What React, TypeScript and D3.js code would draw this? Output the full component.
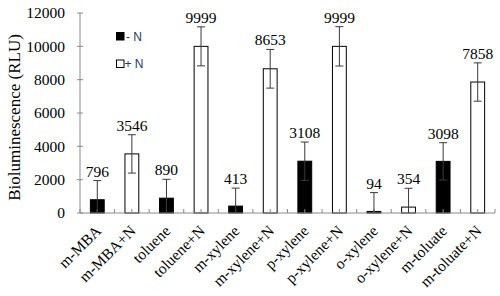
import React from "react";
import * as d3 from "d3";

const categories = [
  "m-MBA", "m-MBA+N", "toluene", "toluene+N", "m-xylene", "m-xylene+N",
  "p-xylene", "p-xylene+N", "o-xylene", "o-xylene+N", "m-toluate", "m-toluate+N",
];
const values = [796, 3546, 890, 9999, 413, 8653, 3108, 9999, 94, 354, 3098, 7858];
const errors = [1150, 1150, 1130, 1170, 1080, 1160, 1150, 1180, 1130, 1130, 1120, 1150];
// true = "+ N" series (open bar), false = "- N" series (filled bar)
const withN = [false, true, false, true, false, true, false, true, false, true, false, true];
const yTicks = [0, 2000, 4000, 6000, 8000, 10000, 12000];
const legendLabels = ["- N", "+ N"];

const W = 500;
const H = 296;
const left = 80;
const right = 495;
const top = 13;
const bottom = 213;

const serif = "Liberation Serif, Times New Roman, serif";
const sans = "Liberation Sans, Arial, sans-serif";

export default function App() {
  const x = d3.scaleBand<string>().domain(categories).range([left, right]).padding(0);
  const y = d3.scaleLinear().domain([0, 12000]).range([bottom, top]);
  const bw = x.bandwidth();
  const barW = bw * 0.4;
  const axisColor = "#8a8a8a";
  const errColor = "#3a3a3a";

  const halfTicks: number[] = [];
  for (let i = 0; i <= categories.length * 2; i++) halfTicks.push(left + (i * bw) / 2);

  const serifStyle = { fontFamily: serif };

  return (
    <svg width={W} height={H} style={{ position: "absolute", left: 0, top: 0, background: "#fff" }}>
      {/* y axis */}
      <line x1={left} x2={left} y1={top} y2={bottom} stroke={axisColor} strokeWidth={1} />
      {yTicks.map((t) => (
        <g key={t}>
          <line x1={left - 3} x2={left + 3} y1={y(t)} y2={y(t)} stroke={axisColor} />
          <text x={65} y={y(t)} dy="0.35em" textAnchor="end" style={serifStyle} fontSize={15.5} fill="#000">
            {t}
          </text>
        </g>
      ))}
      <text
        transform={`translate(20,117.5) rotate(-90)`}
        textAnchor="middle"
        style={serifStyle}
        fontSize={17}
        fill="#000"
      >
        Bioluminescence (RLU)
      </text>

      {/* bars */}
      {categories.map((c, i) => {
        const cx = (x(c) as number) + bw / 2;
        const yTop = y(values[i]);
        return (
          <rect
            key={c}
            x={cx - barW / 2}
            y={yTop}
            width={barW}
            height={bottom - yTop}
            fill={withN[i] ? "#fff" : "#000"}
            stroke="#000"
            strokeWidth={1}
          />
        );
      })}

      {/* x axis */}
      <line x1={left} x2={right} y1={bottom} y2={bottom} stroke={axisColor} />
      {halfTicks.map((t, i) => (
        <line key={i} x1={t} x2={t} y1={bottom - 4} y2={bottom} stroke={axisColor} />
      ))}

      {/* error bars and labels */}
      {categories.map((c, i) => {
        const cx = (x(c) as number) + bw / 2;
        const v = values[i];
        const e = errors[i];
        const yHi = y(v + e);
        const yLo = y(Math.max(0, v - e));
        return (
          <g key={c + "e"}>
            <line x1={cx} x2={cx} y1={yHi} y2={yLo} stroke={errColor} />
            <line x1={cx - 4} x2={cx + 4} y1={yHi} y2={yHi} stroke={errColor} />
            {v - e > 0 && <line x1={cx - 4} x2={cx + 4} y1={yLo} y2={yLo} stroke={errColor} />}
            <text x={cx} y={yHi - 4} textAnchor="middle" style={serifStyle} fontSize={15.5} fill="#000">
              {v}
            </text>
            <text
              transform={`translate(${cx + 1},228) rotate(-45)`}
              dy="0.35em"
              textAnchor="end"
              style={serifStyle}
              fontSize={15.5}
              fill="#000"
            >
              {c}
            </text>
          </g>
        );
      })}

      {/* legend */}
      <rect x={116.5} y={32.5} width={7.5} height={7.5} fill="#000" stroke="#000" />
      <text x={126} y={40.5} style={{ fontFamily: sans }} fontSize={12} fill="#1f3a68">
        {legendLabels[0]}
      </text>
      <rect x={116.5} y={60} width={7.5} height={7.5} fill="#fff" stroke="#000" />
      <text x={124.5} y={68} style={{ fontFamily: sans }} fontSize={12} fill="#1f3a68">
        {legendLabels[1]}
      </text>
    </svg>
  );
}
